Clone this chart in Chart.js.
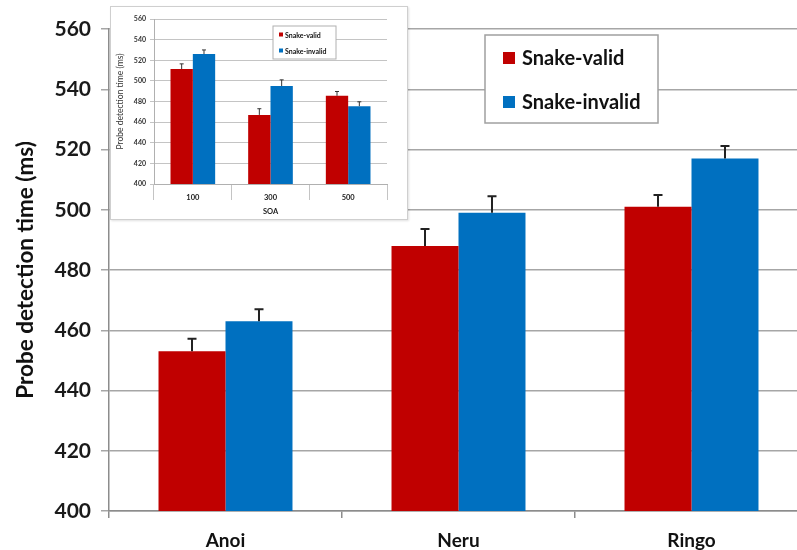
<!DOCTYPE html>
<html>
<head>
<meta charset="utf-8">
<script src="https://cdn.jsdelivr.net/npm/chart.js@4"></script>
<style>
  html, body { margin: 0; padding: 0; background: #fff; overflow: hidden; width: 797px; height: 550px; }
  #stage { position: relative; width: 797px; height: 550px; overflow: hidden; }
  #main { position: absolute; left: 0; top: 0; }
  #insetBox { position: absolute; left: 110px; top: 6px; width: 296px; height: 212px;
              border: 1px solid #cfcfcf; background: #fff; box-shadow: 1px 1px 2px rgba(0,0,0,0.12); }
  #inset { position: absolute; left: 0; top: 0; }
</style>
</head>
<body>
<div id="stage">
  <canvas id="main" width="830" height="550"></canvas>
  <div id="insetBox"><canvas id="inset" width="296" height="212"></canvas></div>
</div>
<script>
// Probe detection time by snake stimulus (main panel)
const categories = ['Anoi', 'Neru', 'Ringo'];
const validMeans = [453, 488, 501];
const validErrors = [4.2, 5.6, 3.9];
const invalidMeans = [463, 499, 517];
const invalidErrors = [4.0, 5.5, 4.2];

// Probe detection time by SOA (inset panel)
const soaLevels = ['100', '300', '500'];
const soaValidMeans = [511.5, 467, 485.5];
const soaValidErrors = [5.0, 6.0, 4.2];
const soaInvalidMeans = [526, 495, 475.5];
const soaInvalidErrors = [4.0, 6.0, 4.2];

const yMin = 400, yMax = 560, yStep = 20;
const seriesNames = ['Snake-valid', 'Snake-invalid'];
const RED = '#C00000', BLUE = '#0070C0';
const FONT = 'Lato, "Open Sans", sans-serif';

// Draws a one-sided (upper) error bar above every bar
const errorBarPlugin = {
  id: 'errorBars',
  afterDatasetsDraw(chart, args, opts) {
    const ctx = chart.ctx;
    const yScale = chart.scales.y;
    ctx.save();
    ctx.strokeStyle = opts.color || '#222';
    ctx.lineWidth = opts.width || 1.5;
    chart.data.datasets.forEach((ds, di) => {
      const meta = chart.getDatasetMeta(di);
      meta.data.forEach((bar, i) => {
        const err = ds.errorBars[i];
        const top = yScale.getPixelForValue(ds.data[i] + err);
        ctx.beginPath();
        ctx.moveTo(bar.x, bar.y);
        ctx.lineTo(bar.x, top);
        ctx.moveTo(bar.x - opts.cap, top);
        ctx.lineTo(bar.x + opts.cap, top);
        ctx.stroke();
      });
    });
    ctx.restore();
  }
};

// Boxed legend placed inside the plot
const boxLegendPlugin = {
  id: 'boxLegend',
  afterDraw(chart, args, o) {
    const ctx = chart.ctx;
    ctx.save();
    ctx.fillStyle = '#fff';
    ctx.fillRect(o.x, o.y, o.w, o.h);
    ctx.strokeStyle = o.border;
    ctx.lineWidth = o.borderWidth;
    ctx.strokeRect(o.x, o.y, o.w, o.h);
    ctx.font = 'bold ' + o.fontSize + 'px ' + FONT;
    ctx.textBaseline = 'middle';
    chart.data.datasets.forEach((ds, i) => {
      const cy = o.rowY[i];
      ctx.fillStyle = ds.backgroundColor;
      ctx.fillRect(o.boxX, cy - o.box / 2, o.box, o.box);
      ctx.fillStyle = '#111';
      ctx.fillText(ds.label, o.textX, cy + 1);
    });
    ctx.restore();
  }
};

function makeDatasets(vMeans, vErr, iMeans, iErr) {
  return [
    { label: seriesNames[0], data: vMeans, errorBars: vErr, backgroundColor: RED,
      barPercentage: 1.0, categoryPercentage: 0.575 },
    { label: seriesNames[1], data: iMeans, errorBars: iErr, backgroundColor: BLUE,
      barPercentage: 1.0, categoryPercentage: 0.575 }
  ];
}

new Chart(document.getElementById('main'), {
  type: 'bar',
  data: { labels: categories, datasets: makeDatasets(validMeans, validErrors, invalidMeans, invalidErrors) },
  options: {
    responsive: false, animation: false, devicePixelRatio: 1,
    layout: { padding: { top: 29, right: 22, bottom: 0, left: 0 } },
    plugins: {
      legend: { display: false }, tooltip: { enabled: false },
      errorBars: { color: '#222', width: 2, cap: 4.5 },
      boxLegend: { x: 485, y: 35, w: 173, h: 88, border: '#a0a0a0', borderWidth: 1.5,
                   fontSize: 20, box: 12, boxX: 503, textX: 522, rowY: [58, 102] }
    },
    scales: {
      x: {
        offset: true,
        grid: { offset: true, drawOnChartArea: false, drawTicks: true, tickLength: 7, color: '#8c8c8c', lineWidth: 1.5 },
        border: { color: '#8c8c8c', width: 1.5 },
        ticks: { color: '#111', padding: 11, font: { family: FONT, size: 19, weight: 'bold' } },
        afterFit(s) { s.height = 39; }
      },
      y: {
        min: yMin, max: yMax,
        ticks: { stepSize: yStep, color: '#1a1a1a', padding: 10, font: { family: FONT, size: 21, weight: 'bold' } },
        grid: { color: '#a6a6a6', lineWidth: 1.5, tickLength: 8 },
        border: { color: '#8c8c8c', width: 1.5 },
        title: { display: true, text: 'Probe detection time (ms)', color: '#111',
                 font: { family: FONT, size: 22.5, weight: 'bold' }, padding: { top: 12, bottom: 0 } },
        afterFit(s) { s.width = 109; }
      }
    }
  },
  plugins: [errorBarPlugin, boxLegendPlugin]
});

new Chart(document.getElementById('inset'), {
  type: 'bar',
  data: { labels: soaLevels, datasets: makeDatasets(soaValidMeans, soaValidErrors, soaInvalidMeans, soaInvalidErrors) },
  options: {
    responsive: false, animation: false, devicePixelRatio: 1,
    layout: { padding: { top: 12, right: 20, bottom: 0, left: 0 } },
    plugins: {
      legend: { display: false }, tooltip: { enabled: false },
      errorBars: { color: '#333', width: 1, cap: 2 },
      boxLegend: { x: 162, y: 19, w: 63, h: 33, border: '#b0b0b0', borderWidth: 1,
                   fontSize: 7, box: 4, boxX: 168, textX: 174, rowY: [27.5, 43.5] }
    },
    scales: {
      x: {
        offset: true,
        grid: { offset: true, drawOnChartArea: false, drawTicks: true, tickLength: 16, color: '#c4c4c4', lineWidth: 1 },
        border: { color: '#b0b0b0', width: 1 },
        ticks: { color: '#222', padding: -7, font: { family: FONT, size: 7.5, weight: 'bold' } },
        title: { display: true, text: 'SOA', color: '#222',
                 font: { family: FONT, size: 7.5, weight: 'bold' }, padding: { top: 0, bottom: 3 } },
        afterFit(s) { s.height = 35; }
      },
      y: {
        min: yMin, max: yMax,
        ticks: { stepSize: yStep, color: '#333', padding: 4, font: { family: FONT, size: 7, weight: 'bold' } },
        grid: { color: '#c4c4c4', lineWidth: 1, tickLength: 4 },
        border: { color: '#b0b0b0', width: 1 },
        title: { display: true, text: 'Probe detection time (ms)', color: '#333',
                 font: { family: FONT, size: 8.5 }, padding: { top: 4, bottom: 0 } },
        afterFit(s) { s.width = 43; }
      }
    }
  },
  plugins: [errorBarPlugin, boxLegendPlugin]
});
</script>
</body>
</html>
